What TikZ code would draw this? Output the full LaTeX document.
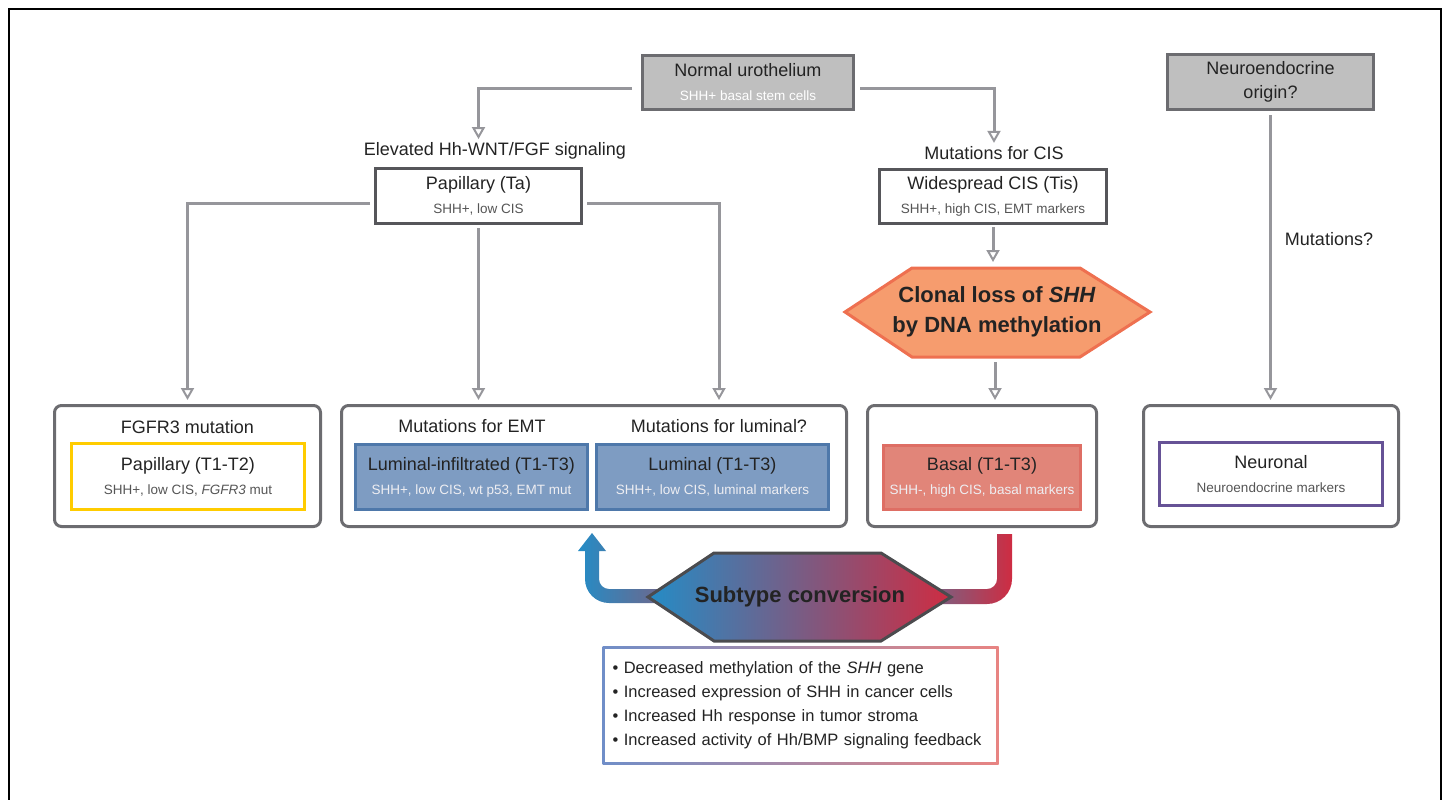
\documentclass[tikz,border=0pt]{standalone}
\usepackage{fontspec}
\setmainfont{Liberation Sans}
\usetikzlibrary{arrows.meta, positioning}
\definecolor{boxgray}{RGB}{191,191,191}
\definecolor{edgegray}{RGB}{108,108,112}
\definecolor{conngray}{RGB}{150,150,155}
\definecolor{txtdark}{RGB}{35,35,35}
\definecolor{txtsub}{RGB}{85,85,85}
\definecolor{txtlight}{RGB}{238,238,242}
\definecolor{papyellow}{RGB}{255,204,0}
\definecolor{lumfill}{RGB}{126,156,194}
\definecolor{lumedge}{RGB}{78,120,170}
\definecolor{basfill}{RGB}{225,133,121}
\definecolor{basedge}{RGB}{222,110,100}
\definecolor{neupurple}{RGB}{102,82,150}
\definecolor{clonfill}{RGB}{246,156,110}
\definecolor{clonedge}{RGB}{238,112,80}
\definecolor{convblue}{RGB}{36,140,198}
\definecolor{convred}{RGB}{206,44,66}
\definecolor{convmid}{RGB}{140,122,150}
\definecolor{hexedge}{RGB}{75,75,78}
\definecolor{listblue}{RGB}{112,142,200}
\definecolor{listred}{RGB}{232,132,130}
\newcommand{\labf}{\fontsize{18}{24}\selectfont}
\newcommand{\subf}{\fontsize{13.5}{18}\selectfont}
\newcommand{\hexf}{\fontsize{22}{30}\selectfont\bfseries}
\newcommand{\listf}{\fontsize{16.5}{24}\selectfont}

\begin{document}
\begin{tikzpicture}[x=1pt, y=-1pt,
  graybox/.style={draw=edgegray, fill=boxgray, line width=3pt, align=center, text=txtdark, font=\labf},
  whitebox/.style={draw=edgegray!80!black, fill=white, line width=3pt, align=center, text=txtdark, font=\labf},
  groupbox/.style={draw=edgegray, line width=3pt, rounded corners=7pt},
  innerbox/.style={line width=3pt, align=center, text=txtdark, font=\labf},
  headtext/.style={text=txtdark, font=\labf},
  conn/.style={draw=conngray, line width=3pt, -{Triangle[open, length=12pt, width=13pt, line width=2pt]}},
  ]
\useasboundingbox (0,0) rectangle (1446,800);
\draw[line width=2pt] (9,800) -- (9,9) -- (1441,9) -- (1441,800);

\node[graybox, minimum width=211pt, minimum height=54pt] (normal) at (748,82.5)
  {Normal urothelium\\{\subf\color{white}SHH+ basal stem cells}};
\node[graybox, minimum width=206pt, minimum height=55pt] (neuro) at (1270.5,82)
  {Neuroendocrine\\origin?};

\node[headtext] (elev) at (495,151) {Elevated Hh-WNT/FGF signaling};
\node[whitebox, minimum width=206pt, minimum height=55pt] (papTa) at (478.5,196)
  {Papillary (Ta)\\{\subf\color{txtsub}SHH+, low CIS}};
\node[headtext] (mutcis) at (994,153) {Mutations for CIS};
\node[whitebox, minimum width=227pt, minimum height=54pt] (cis) at (993,196.5)
  {Widespread CIS (Tis)\\{\subf\color{txtsub}SHH+, high CIS, EMT markers}};
\node[headtext] (mutq) at (1329,239) {Mutations?};

\path[draw=clonedge, fill=clonfill, line width=3pt]
  (845,312) -- (912,268) -- (1080,268) -- (1150,312)
  -- (1080,357) -- (912,357) -- cycle;
\coordinate (clonN) at (995,268);
\coordinate (clonS) at (995,357);
\node[font=\hexf, text=txtdark, align=center] (clonal) at (997,312)
  {Clonal loss of \textit{SHH}\\by DNA methylation};

\node[groupbox, minimum width=266pt, minimum height=121pt] (box1) at (187.5,466) {};
\node[groupbox, minimum width=505pt, minimum height=121pt] (box2) at (594,466) {};
\node[groupbox, minimum width=229pt, minimum height=121pt] (box3) at (982,466) {};
\node[groupbox, minimum width=255pt, minimum height=121pt] (box4) at (1271,466) {};

\node[headtext] (fgfr) at (187.5,427) {FGFR3 mutation};
\node[headtext] (mutemt) at (472,426) {Mutations for EMT};
\node[headtext] (mutlum) at (719,426) {Mutations for luminal?};

\node[innerbox, draw=papyellow, fill=white, minimum width=233pt, minimum height=66pt] (papT1) at (188,476.5)
  {Papillary (T1-T2)\\{\subf\color{txtsub}SHH+, low CIS, \textit{FGFR3} mut}};
\node[innerbox, draw=lumedge, fill=lumfill, minimum width=232pt, minimum height=65pt] (lumInf) at (471.5,477)
  {Luminal-infiltrated (T1-T3)\\{\subf\color{txtlight}SHH+, low CIS, wt p53, EMT mut}};
\node[innerbox, draw=lumedge, fill=lumfill, minimum width=232pt, minimum height=65pt] (lum) at (712.5,477)
  {Luminal (T1-T3)\\{\subf\color{txtlight}SHH+, low CIS, luminal markers}};
\node[innerbox, draw=basedge, fill=basfill, minimum width=197pt, minimum height=64pt] (basal) at (982,477.5)
  {Basal (T1-T3)\\{\subf\color{txtlight}SHH-, high CIS, basal markers}};
\node[innerbox, draw=neupurple, fill=white, minimum width=223pt, minimum height=63pt] (neuronal) at (1271,474)
  {Neuronal\\{\subf\color{txtsub}Neuroendocrine markers}};

\draw[conn] ([shift={(-9,6)}]normal.west) -| (papTa.north |- elev.north);
\draw[conn] ([shift={(5,6)}]normal.east) -| (mutcis.north);
\draw[conn, shorten <=2pt, shorten >=6pt] (cis.south) -- (cis.south |- clonN);
\draw[conn, shorten <=5pt, shorten >=4pt] (clonS) -- (clonS |- box3.north);
\draw[conn, shorten >=4pt] ([shift={(-4,7)}]papTa.west) -| (box1.north);
\draw[conn, shorten <=3pt, shorten >=4pt] (papTa.south) -- (papTa.south |- box2.north);
\draw[conn, shorten >=4pt] ([shift={(4,7)}]papTa.east) -| (mutlum.north |- box2.north);
\draw[conn, shorten <=4pt, shorten >=4pt] (neuro.south) -- (neuro.south |- box4.north);

\shade[left color=convblue, right color=convblue!55!convred!85!gray]
  (668,589) -- (609,589) arc[start angle=90, end angle=180, radius=10]
  -- (599,551) -- (606,551) -- (592,533) -- (578,551) -- (585,551)
  -- (585,579) arc[start angle=180, end angle=90, radius=24] -- (668,603) -- cycle;
\shade[left color=convred!55!convblue!85!gray, right color=convred]
  (940,589) -- (987,589) arc[start angle=90, end angle=0, radius=10]
  -- (997,534) -- (1012,534) -- (1012,579)
  arc[start angle=0, end angle=90, radius=25] -- (940,604) -- cycle;
\shadedraw[draw=hexedge, line width=3pt, left color=convblue, middle color=convmid, right color=convred]
  (648,597) -- (714,553) -- (881,553) -- (951,597) -- (881,641) -- (714,641) -- cycle;
\node[font=\hexf, text=txtdark] (conv) at (800,597) {Subtype conversion};

\node[shade, left color=listblue, right color=listred, minimum width=396pt, minimum height=118pt] (listframe) at (800.5,705.5) {};
\node[fill=white, minimum width=391pt, minimum height=113pt, text width=376pt, inner sep=0pt,
  align=left, font=\listf, text=txtdark] (list) at (listframe.center)
  {\textbullet\ Decreased methylation of the \textit{SHH} gene\\
   \textbullet\ Increased expression of SHH in cancer cells\\
   \textbullet\ Increased Hh response in tumor stroma\\
   \textbullet\ Increased activity of Hh/BMP signaling feedback};
\end{tikzpicture}
\end{document}
